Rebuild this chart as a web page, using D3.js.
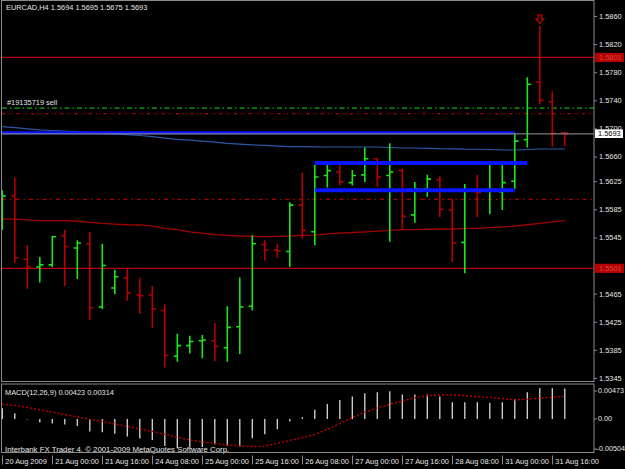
<!DOCTYPE html>
<html>
<head>
<meta charset="utf-8">
<script src="https://cdn.jsdelivr.net/npm/d3@7"></script>
<style>
  body { margin: 0; background: #000; }
  svg text { font-family: "Liberation Sans", Arial, sans-serif; font-size: 7.4px; }
</style>
</head>
<body>
<div class="wrapper"></div>
<script>
// EURCAD H4 bars, 20 Aug 08:00 .. 31 Aug 20:00
const open = [1.5567, 1.5604, 1.5514, 1.5503, 1.5506, 1.5547, 1.5530, 1.5536, 1.5446, 1.5473,
  1.5487, 1.5463, 1.5463, 1.5441, 1.5376, 1.5391, 1.5398, 1.5398, 1.5388, 1.5418,
  1.5447, 1.5535, 1.5527, 1.5525, 1.5591, 1.5553, 1.5633, 1.5638, 1.5623, 1.5634,
  1.5657, 1.5633, 1.5640, 1.5577, 1.5614, 1.5627, 1.5584, 1.5538, 1.5610, 1.5612,
  1.5610, 1.5625, 1.5684, 1.5766, 1.5738, 1.5694]
const high = [1.5612, 1.5630, 1.5534, 1.5517, 1.5547, 1.5556, 1.5541, 1.5553, 1.5536, 1.5499,
  1.5500, 1.5488, 1.5476, 1.5450, 1.5408, 1.5405, 1.5406, 1.5423, 1.5447, 1.5488,
  1.5548, 1.5541, 1.5536, 1.5595, 1.5637, 1.5648, 1.5651, 1.5651, 1.5641, 1.5673,
  1.5658, 1.5679, 1.5643, 1.5624, 1.5634, 1.5632, 1.5600, 1.5621, 1.5634, 1.5650,
  1.5652, 1.5693, 1.5773, 1.5846, 1.5753, 1.5695]
const low = [1.5556, 1.5509, 1.5472, 1.5481, 1.5503, 1.5476, 1.5486, 1.5428, 1.5443, 1.5464,
  1.5455, 1.5436, 1.5416, 1.5360, 1.5368, 1.5380, 1.5373, 1.5369, 1.5368, 1.5379,
  1.5441, 1.5512, 1.5516, 1.5503, 1.5543, 1.5534, 1.5616, 1.5619, 1.5619, 1.5624,
  1.5617, 1.5539, 1.5556, 1.5566, 1.5603, 1.5574, 1.5510, 1.5494, 1.5574, 1.5578,
  1.5584, 1.5614, 1.5673, 1.5734, 1.5674, 1.5675]
const close = [1.5604, 1.5516, 1.5503, 1.5506, 1.5546, 1.5532, 1.5537, 1.5445, 1.5505, 1.5489,
  1.5466, 1.5462, 1.5443, 1.5377, 1.5391, 1.5397, 1.5399, 1.5390, 1.5417, 1.5446,
  1.5536, 1.5527, 1.5526, 1.5591, 1.5555, 1.5631, 1.5640, 1.5624, 1.5633, 1.5657,
  1.5631, 1.5638, 1.5575, 1.5614, 1.5628, 1.5585, 1.5537, 1.5611, 1.5609, 1.5613,
  1.5623, 1.5682, 1.5763, 1.5740, 1.5693, 1.5693]

// moving averages
const maSlow = [1.57025, 1.57011, 1.56995, 1.56980, 1.56971, 1.56964, 1.56954, 1.56940, 1.56927, 1.56920,
  1.56911, 1.56900, 1.56884, 1.56863, 1.56846, 1.56833, 1.56820, 1.56805, 1.56788, 1.56776,
  1.56766, 1.56759, 1.56750, 1.56743, 1.56742, 1.56739, 1.56736, 1.56736, 1.56736, 1.56736,
  1.56736, 1.56729, 1.56722, 1.56722, 1.56718, 1.56712, 1.56711, 1.56705, 1.56704, 1.56701,
  1.56694, 1.56694, 1.56701, 1.56708, 1.56708, 1.56708]
const maRed = [1.5571, 1.5571, 1.5570, 1.5569, 1.5569, 1.5569, 1.5568, 1.55665, 1.5565, 1.5564,
  1.5563, 1.55627, 1.5561, 1.5558, 1.5556, 1.5553, 1.5551, 1.5549, 1.5548, 1.5547,
  1.55466, 1.5546, 1.55466, 1.5547, 1.5548, 1.55484, 1.5550, 1.5551, 1.5552, 1.5553,
  1.5554, 1.5555, 1.5556, 1.5556, 1.55566, 1.55566, 1.5557, 1.5558, 1.5558, 1.5559,
  1.5560, 1.5561, 1.5563, 1.5565, 1.5567, 1.5569]

// MACD(12,26,9)
const macdHist = [0.00149, 0.0008, -0.0001, -0.00052, -0.00066, -0.0008, -0.00098, -0.00177, -0.00186, -0.00209,
  -0.00247, -0.00275, -0.00293, -0.00377, -0.00409, -0.00395, -0.00391, -0.00353, -0.00377, -0.00387,
  -0.00269, -0.00214, -0.00144, -0.00038, 0.00024, 0.00126, 0.00209, 0.00265, 0.00311, 0.00359,
  0.00373, 0.00387, 0.00339, 0.00339, 0.00339, 0.00311, 0.00233, 0.00233, 0.00233, 0.00223,
  0.00233, 0.00279, 0.00373, 0.00428, 0.00428, 0.00423]
const macdSignal = [0.00207, 0.00188, 0.00161, 0.00126, 0.00095, 0.00063, 0.00028, -0.00007, -0.00035, -0.0007,
  -0.00105, -0.0014, -0.00174, -0.00216, -0.00258, -0.00293, -0.00321, -0.00342, -0.00363, -0.00377,
  -0.00387, -0.0038, -0.00342, -0.003, -0.00262, -0.00216, -0.00147, -0.00063, 0.00018, 0.00094,
  0.00154, 0.00205, 0.00251, 0.00293, 0.00324, 0.00335, 0.00335, 0.00324, 0.0031, 0.003,
  0.00282, 0.00265, 0.00275, 0.00289, 0.00303, 0.00314]

// axes
const priceTicks = [1.5860, 1.5820, 1.5780, 1.5740, 1.5700, 1.5660, 1.5625, 1.5585, 1.5545, 1.5505, 1.5465, 1.5425, 1.5385, 1.5345]
const macdTicks = [0.00473, 0, -0.00504]
const macdTickLabels = ['0.00473', '0.00', '-0.00504']
const timeBars = [0, 4, 8, 12, 16, 20, 24, 28, 32, 36, 40, 44]
const timeLabels = ['20 Aug 2009', '21 Aug 00:00', '21 Aug 16:00', '24 Aug 08:00', '25 Aug 00:00', '25 Aug 16:00',
  '26 Aug 08:00', '27 Aug 00:00', '27 Aug 16:00', '28 Aug 08:00', '31 Aug 00:00', '31 Aug 16:00']

// objects on chart
const redLevels = [1.5801, 1.5501]
const blueLevels = [1.5694, 1.5651, 1.5612]
const blueFrom = [-1, 25, 25]
const blueTo = [41, 42, 41]
const orderLevels = [1.5729, 1.5721, 1.5599]

const width = 625, height = 469
const left = 2, right = 594
const mainTop = 1, mainBottom = 381.5
const macdTop = 384, macdBottom = 452.5

const bull = '#18e618', bear = '#b40000', frame = '#8a8a8a', txt = '#e6e6e6'
const font = '"Liberation Sans", Arial, sans-serif'

const svg = d3.select('.wrapper')
  .append('svg')
  .attr('width', width)
  .attr('height', height)
  .style('display', 'block')

svg.append('rect').attr('width', width).attr('height', height).attr('fill', '#000')

const x = d3.scaleLinear().domain([0, 45]).range([2.3, 564.8])
const y = d3.scaleLinear().domain([1.5345, 1.5860]).range([378, 16])
const ym = d3.scaleLinear().domain([-0.00504, 0.00473]).range([455, 385])

const defs = svg.append('defs')
defs.append('clipPath').attr('id', 'clipMain')
  .append('rect').attr('x', left).attr('y', mainTop).attr('width', right - left).attr('height', mainBottom - mainTop)
defs.append('clipPath').attr('id', 'clipMacd')
  .append('rect').attr('x', left).attr('y', macdTop).attr('width', right - left).attr('height', macdBottom - macdTop)

const main = svg.append('g').attr('clip-path', 'url(#clipMain)')
const macd = svg.append('g').attr('clip-path', 'url(#clipMacd)')

// horizontal red lines
main.selectAll('line.red').data(redLevels).join('line')
  .attr('x1', left).attr('x2', right)
  .attr('y1', d => y(d)).attr('y2', d => y(d))
  .attr('stroke', '#b80000').attr('stroke-width', 1.2)

// order lines
const orderColors = ['#10b010', '#b00000', '#b00000']
const orderDash = ['5,3,1.5,3', '3,4,1,1.5,1,4', '4,4,1.5,4']
main.selectAll('line.order').data(orderLevels).join('line')
  .attr('x1', left).attr('x2', right)
  .attr('y1', d => y(d)).attr('y2', d => y(d))
  .attr('stroke', (d, i) => orderColors[i])
  .attr('stroke-dasharray', (d, i) => orderDash[i])
  .attr('stroke-width', 1.2)

main.append('text')
  .attr('x', 7).attr('y', y(orderLevels[0]) - 3)
  .attr('fill', txt)
  .text('#19135719 sell')

// moving averages
const lineGen = d3.line().x((d, i) => x(i)).y(d => y(d))
main.append('path').datum(maSlow)
  .attr('d', lineGen).attr('fill', 'none')
  .attr('stroke', '#2d58a6').attr('stroke-width', 1.2)
main.append('path').datum(maRed)
  .attr('d', lineGen).attr('fill', 'none')
  .attr('stroke', '#a00000').attr('stroke-width', 1.3)

// OHLC bars
const bars = main.selectAll('g.bar')
  .data(d3.range(open.length))
  .join('g')
  .attr('class', 'bar')
  .attr('stroke', i => close[i] < open[i] ? bear : bull)
  .attr('stroke-width', 1.6)

bars.append('line')
  .attr('x1', i => x(i)).attr('x2', i => x(i))
  .attr('y1', i => y(high[i])).attr('y2', i => y(low[i]))
bars.append('line')
  .attr('x1', i => x(i) - 3.6).attr('x2', i => x(i))
  .attr('y1', i => y(open[i])).attr('y2', i => y(open[i]))
bars.append('line')
  .attr('x1', i => x(i)).attr('x2', i => x(i) + 3.6)
  .attr('y1', i => y(close[i])).attr('y2', i => y(close[i]))

// blue trend lines
const blueWidth = [3, 4, 4]
main.selectAll('line.blue').data(blueLevels).join('line')
  .attr('x1', (d, i) => x(blueFrom[i])).attr('x2', (d, i) => x(blueTo[i]))
  .attr('y1', d => y(d)).attr('y2', d => y(d))
  .attr('stroke', '#0a14ff')
  .attr('stroke-width', (d, i) => blueWidth[i])

// bid line
const bid = close[close.length - 1]
main.append('line')
  .attr('x1', left).attr('x2', right)
  .attr('y1', y(bid) + 0.5).attr('y2', y(bid) + 0.5)
  .attr('stroke', '#9a9a9a').attr('stroke-width', 1)

// sell arrow over the top bar
const ai = 43
const ax = x(ai), at = y(high[ai]) - 2.5
main.append('path')
  .attr('d', `M${ax - 1.8},${at - 8.5} H${ax + 1.8} V${at - 4.5} H${ax + 4} L${ax},${at} L${ax - 4},${at - 4.5} H${ax - 1.8} Z`)
  .attr('fill', 'none').attr('stroke', '#c00000').attr('stroke-width', 1.2)

// header
svg.append('text').attr('x', 6).attr('y', 10).attr('fill', txt)
  .text(`EURCAD,H4  ${open[45].toFixed(4)} ${high[45].toFixed(4)} ${low[45].toFixed(4)} ${close[45].toFixed(4)}`)

// MACD panel
macd.selectAll('line.hist').data(macdHist).join('line')
  .attr('x1', (d, i) => x(i)).attr('x2', (d, i) => x(i))
  .attr('y1', ym(0)).attr('y2', d => ym(d))
  .attr('stroke', '#d8d8d8').attr('stroke-width', 1.3)

macd.append('path').datum(macdSignal)
  .attr('d', d3.line().x((d, i) => x(i)).y(d => ym(d)))
  .attr('fill', 'none')
  .attr('stroke', '#c80000').attr('stroke-width', 1.3)
  .attr('stroke-dasharray', '2,2')

svg.append('text').attr('x', 5).attr('y', 394.6).attr('fill', txt)
  .text(`MACD(12,26,9) ${macdHist[45].toFixed(5)} ${macdSignal[45].toFixed(5)}`)
svg.append('text').attr('x', 5).attr('y', 451.8).attr('fill', txt)
  .style('font-size', '7.8px')
  .text('Interbank FX Trader 4, © 2001-2009 MetaQuotes Software Corp.')

// frames
const frames = svg.append('g').attr('fill', 'none').attr('stroke', frame).attr('stroke-width', 1)
frames.append('rect').attr('x', 1.5).attr('y', 0.5).attr('width', right - 1.5).attr('height', mainBottom - 0.5)
frames.append('rect').attr('x', 1.5).attr('y', macdTop).attr('width', right - 1.5).attr('height', macdBottom - macdTop)

// price axis (labels hidden under a line tag are skipped)
const shownTicks = priceTicks.filter(t => redLevels.every(p => Math.abs(y(t) - y(p)) > 5))
const priceAxis = svg.append('g')
  .attr('transform', `translate(${right}, 0)`)
  .call(d3.axisRight(y).tickValues(shownTicks).tickFormat(d3.format('.4f')).tickSize(3).tickPadding(2))
priceAxis.select('.domain').remove()
priceAxis.selectAll('line').attr('stroke', frame)
priceAxis.selectAll('text').attr('fill', txt).style('font-size', '7.4px').style('font-family', font)

// price labels for lines
const tags = svg.append('g')
redLevels.forEach(p => {
  tags.append('rect').attr('x', 595).attr('y', y(p) - 4.6).attr('width', 29).attr('height', 9.2).attr('fill', '#b40000')
  tags.append('text').attr('x', 599).attr('y', y(p) + 2.7).attr('fill', '#d84848').text(p.toFixed(4))
})
tags.append('rect').attr('x', 595).attr('y', y(bid) - 4).attr('width', 28).attr('height', 8.6).attr('fill', '#fff')
tags.append('text').attr('x', 598).attr('y', y(bid) + 2.8).attr('fill', '#000').text(bid.toFixed(4))

// MACD axis
const macdAxis = svg.append('g')
  .attr('transform', `translate(${right}, 0)`)
  .call(d3.axisRight(ym).tickValues(macdTicks).tickFormat((d, i) => macdTickLabels[i]).tickSize(3).tickPadding(2))
macdAxis.select('.domain').remove()
macdAxis.selectAll('.tick').attr('transform', d => `translate(0, ${Math.min(Math.max(ym(d), 391), 449)})`)
macdAxis.selectAll('line').attr('stroke', frame)
macdAxis.selectAll('text')
  .attr('fill', txt)
  .attr('x', d => d < 0 ? 2.5 : 4)
  .style('font-size', '7.2px').style('font-family', font)

// time axis
const timeAxis = svg.append('g')
  .attr('transform', `translate(0, ${macdBottom + 3})`)
  .call(d3.axisBottom(x).tickValues(timeBars).tickFormat((d, i) => timeLabels[i]).tickSize(9))
timeAxis.select('.domain').remove()
timeAxis.selectAll('.tick line').attr('stroke', frame).attr('transform', 'translate(-0.3,0)')
timeAxis.selectAll('text')
  .attr('fill', txt)
  .attr('text-anchor', 'start')
  .attr('x', 2.5).attr('y', 6).attr('dy', '0.35em')
  .style('font-size', '7.4px').style('font-family', font)
</script>
</body>
</html>
